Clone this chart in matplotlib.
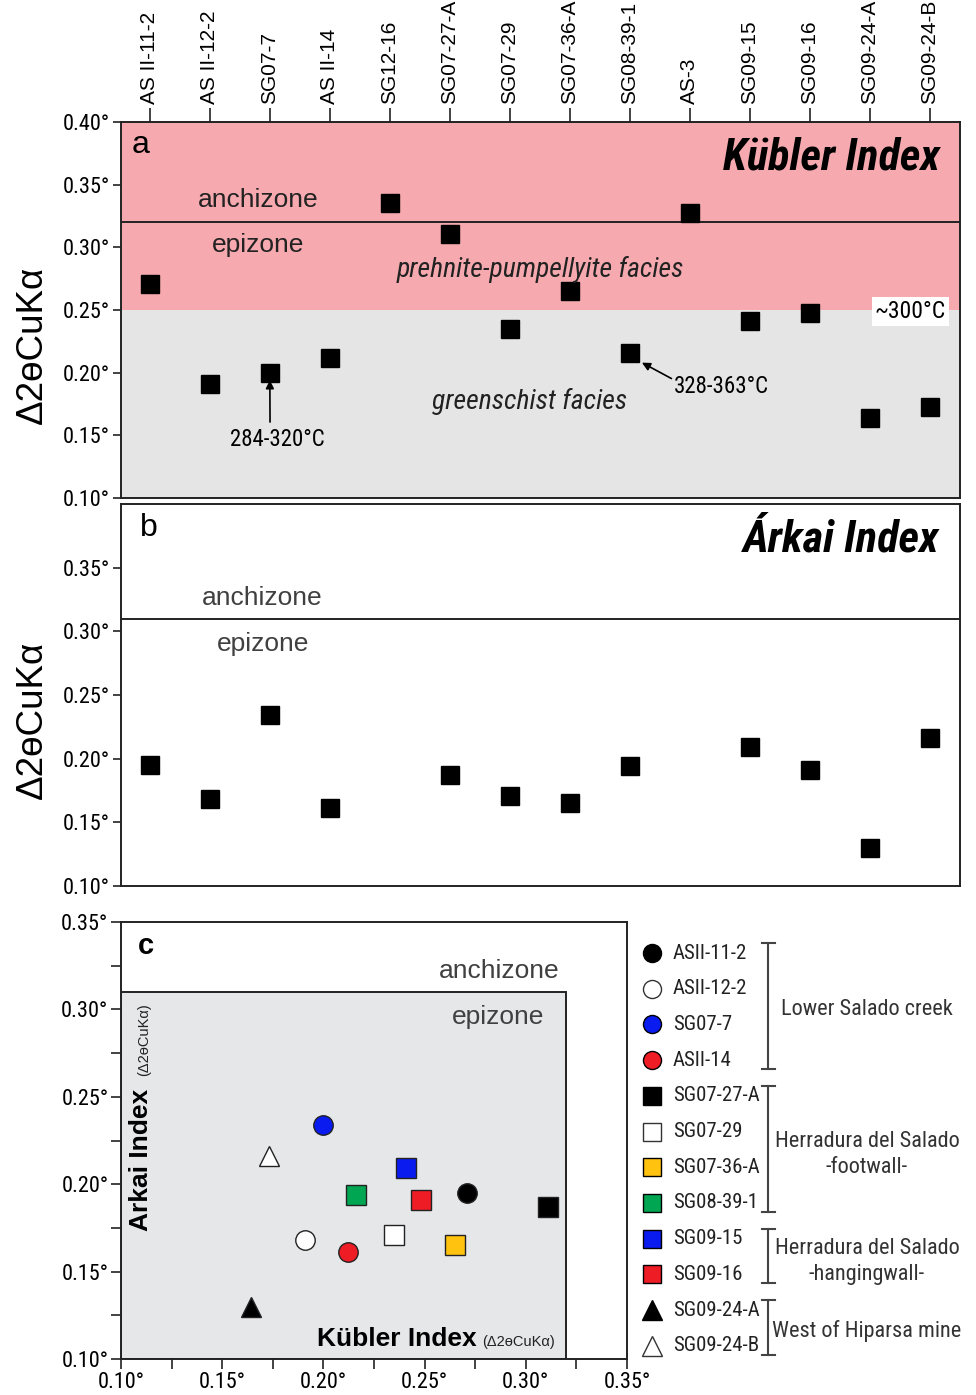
import numpy as np
import matplotlib
matplotlib.use('Agg')
import matplotlib.pyplot as plt
from matplotlib.patches import Rectangle

# === DATA ===
samples = ['AS II-11-2', 'AS II-12-2', 'SG07-7', 'AS II-14', 'SG12-16', 'SG07-27-A',
           'SG07-29', 'SG07-36-A', 'SG08-39-1', 'AS-3', 'SG09-15', 'SG09-16',
           'SG09-24-A', 'SG09-24-B']
kubler = [0.271, 0.191, 0.200, 0.212, 0.335, 0.311, 0.235, 0.265, 0.216, 0.327,
          0.241, 0.248, 0.164, 0.173]
arkai = [0.195, 0.168, 0.234, 0.161, np.nan, 0.187, 0.171, 0.165, 0.194, np.nan,
         0.209, 0.191, 0.130, 0.216]

# panel c symbols (same order as samples; SG12-16 and AS-3 have no Arkai value)
legend_names = ['ASII-11-2', 'ASII-12-2', 'SG07-7', 'ASII-14', None, 'SG07-27-A',
                'SG07-29', 'SG07-36-A', 'SG08-39-1', None, 'SG09-15', 'SG09-16',
                'SG09-24-A', 'SG09-24-B']
markers = ['o', 'o', 'o', 'o', None, 's', 's', 's', 's', None, 's', 's', '^', '^']
colors = ['black', 'white', '#0a1bf0', '#ee1c25', None, 'black', 'white', '#ffc20e',
          '#00a651', None, '#0a1bf0', '#ee1c25', 'black', 'white']
groups = [('Lower Salado creek', 0, 3),
          ('Herradura del Salado\n-footwall-', 4, 7),
          ('Herradura del Salado\n-hangingwall-', 8, 9),
          ('West of Hiparsa mine', 10, 11)]

NARROW = ['Liberation Sans Narrow', 'Arial Narrow', 'Roboto Condensed',
          'Archivo Narrow', 'PT Sans Narrow', 'DejaVu Sans']
SANS = ['Liberation Sans', 'Arimo', 'Arial', 'DejaVu Sans']
YLAB = 'Δ2ɵCuKα'

W, H = 976, 1395
fig = plt.figure(figsize=(W / 100, H / 100), dpi=100)


def px_axes(x0, y0, x1, y1):
    return fig.add_axes([x0 / W, 1 - y1 / H, (x1 - x0) / W, (y1 - y0) / H])


ax_a = px_axes(121, 122, 960, 498)
ax_b = px_axes(121, 504, 960, 886)
ax_c = px_axes(121, 922, 627, 1359)
ax_l = px_axes(630, 925, 976, 1372)

x = np.arange(len(samples))


def style_strip(ax, yticks):
    ax.set_xlim(-0.48, 13.5)
    for s in ax.spines.values():
        s.set_color('#222222')
        s.set_linewidth(1.4)
    ax.set_yticks(yticks)
    ax.set_yticklabels([f'{v:.2f}°' for v in yticks], family=NARROW, fontsize=16)
    ax.tick_params(axis='y', length=6, width=1.2, color='#222222', pad=2)


# --- panel a: Kubler index ---
ax_a.set_ylim(0.10, 0.40)
ax_a.axhspan(0.25, 0.40, color='#f6aaaf', zorder=0, lw=0)
ax_a.axhspan(0.10, 0.25, color='#e5e5e5', zorder=0, lw=0)
ax_a.axhline(0.32, color='#222222', lw=1.4, zorder=1)
ax_a.plot(x, kubler, 's', color='black', ms=13, ls='none', zorder=3)
style_strip(ax_a, np.arange(0.10, 0.401, 0.05))
ax_a.xaxis.tick_top()
ax_a.set_xticks(x)
ax_a.set_xticklabels(samples, rotation=90, family=SANS, fontsize=15)
ax_a.tick_params(axis='x', length=10, width=1.2, color='#222222', pad=3)

ax_a.text(0.013, 0.94, 'a', transform=ax_a.transAxes, fontsize=23, family=SANS,
          va='center', ha='left')
ax_a.text(0.976, 0.905, 'Kübler Index', transform=ax_a.transAxes, fontsize=32,
          family=NARROW, weight='bold', style='italic', ha='right', va='center')
ax_a.text(1.8, 0.338, 'anchizone', fontsize=19, family=SANS, ha='center', va='center', color='#222222')
ax_a.text(1.8, 0.302, 'epizone', fontsize=19, family=SANS, ha='center', va='center', color='#222222')
ax_a.text(6.5, 0.282, 'prehnite-pumpellyite facies', fontsize=20, family=NARROW,
          style='italic', ha='center', va='center', color='#222222')
ax_a.text(6.33, 0.177, 'greenschist facies', fontsize=20, family=NARROW,
          style='italic', ha='center', va='center', color='#222222')
ax_a.text(12.67, 0.249, '~300°C', fontsize=17, family=NARROW, ha='center', va='center',
          bbox=dict(facecolor='white', edgecolor='none', pad=2))
ax_a.annotate('284-320°C', xy=(2.0, 0.194), xytext=(2.13, 0.147), fontsize=16.5,
              family=NARROW, ha='center', va='center',
              arrowprops=dict(arrowstyle='-|>', color='black', lw=1.2,
                              shrinkA=2, shrinkB=0, mutation_scale=12,
                              relpos=(0.42, 1.0)))
ax_a.annotate('328-363°C', xy=(8.2, 0.208), xytext=(9.53, 0.1886), fontsize=16.5,
              family=NARROW, ha='center', va='center',
              arrowprops=dict(arrowstyle='-|>', color='black', lw=1.2,
                              shrinkA=0, shrinkB=0, mutation_scale=12,
                              relpos=(0.0, 0.8)))

# --- panel b: Arkai index ---
ax_b.set_ylim(0.10, 0.40)
ax_b.axhline(0.31, color='#222222', lw=1.4)
ax_b.plot(x, arkai, 's', color='black', ms=13, ls='none', zorder=3)
style_strip(ax_b, np.arange(0.10, 0.351, 0.05))
ax_b.set_xticks([])
ax_b.text(0.023, 0.937, 'b', transform=ax_b.transAxes, fontsize=23, family=SANS,
          va='center', ha='left')
ax_b.text(0.976, 0.906, 'Árkai Index', transform=ax_b.transAxes, fontsize=32,
          family=NARROW, weight='bold', style='italic', ha='right', va='center')
ax_b.text(1.88, 0.326, 'anchizone', fontsize=19, family=SANS, ha='center', va='center', color='#404040')
ax_b.text(1.88, 0.290, 'epizone', fontsize=19, family=SANS, ha='center', va='center', color='#404040')

fig.text(32 / W, 1 - 345 / H, YLAB, rotation=90, fontsize=26.5, family=SANS,
         ha='center', va='center')
fig.text(32 / W, 1 - 720 / H, YLAB, rotation=90, fontsize=26.5, family=SANS,
         ha='center', va='center')

# --- panel c: Kubler vs Arkai ---
ax_c.set_xlim(0.10, 0.35)
ax_c.set_ylim(0.10, 0.35)
ax_c.add_patch(Rectangle((0.10, 0.10), 0.22, 0.21, facecolor='#e6e7e8',
                         edgecolor='#222222', lw=1.4, zorder=0))
for s in ax_c.spines.values():
    s.set_color('#222222')
    s.set_linewidth(1.4)
ct = np.arange(0.10, 0.351, 0.025)
ax_c.set_xticks(ct)
ax_c.set_yticks(ct)
clabs = [f'{v:.2f}°' if i % 2 == 0 else '' for i, v in enumerate(ct)]
ax_c.set_xticklabels(clabs, family=NARROW, fontsize=16)
ax_c.set_yticklabels(clabs, family=NARROW, fontsize=16)
ax_c.tick_params(length=7, width=1.2, color='#222222', pad=2)

for i in range(len(samples)):
    if markers[i] is None:
        continue
    ax_c.plot(kubler[i], arkai[i], markers[i], mfc=colors[i], mec='#222222', mew=1,
              ms=14 if markers[i] != '^' else 15, zorder=3)

ax_c.text(0.034, 0.945, 'c', transform=ax_c.transAxes, fontsize=21, family=SANS,
          weight='bold', ha='left', va='center')
ax_c.text(0.747, 0.888, 'anchizone', transform=ax_c.transAxes, fontsize=19,
          family=SANS, ha='center', va='center', color='#404040')
ax_c.text(0.745, 0.783, 'epizone', transform=ax_c.transAxes, fontsize=19,
          family=SANS, ha='center', va='center', color='#404040')
ax_c.text(0.702, 0.045, 'Kübler Index', transform=ax_c.transAxes, fontsize=19,
          family=SANS, weight='bold', ha='right', va='center')
ax_c.text(0.714, 0.040, '(Δ2ɵCuKα)', transform=ax_c.transAxes, fontsize=10.5,
          family=SANS, ha='left', va='center', color='#222222')
ax_c.text(0.040, 0.455, 'Arkai Index', transform=ax_c.transAxes, fontsize=19,
          family=SANS, weight='bold', rotation=90, ha='center', va='center')
ax_c.text(0.046, 0.73, '(Δ2ɵCuKα)', transform=ax_c.transAxes, fontsize=10.5,
          family=SANS, rotation=90, ha='center', va='center', color='#222222')

# --- legend with group brackets ---
ax_l.set_xlim(630, 976)
ax_l.set_ylim(1372, 925)
ax_l.axis('off')
row = 0
row_y = []
for i in range(len(samples)):
    if markers[i] is None:
        continue
    yy = 953 + row * 35.7
    row_y.append(yy)
    ax_l.plot(652, yy, markers[i], mfc=colors[i],
              mec='black' if colors[i] != 'white' else '#333333',
              mew=1, ms=13 if markers[i] != '^' else 14)
    ax_l.text(673, yy, legend_names[i], fontsize=15, family=NARROW, va='center',
              ha='left', color='#222222')
    row += 1

for label, r0, r1 in groups:
    y0, y1 = row_y[r0] - 10, row_y[r1] + 9
    ax_l.plot([768, 768], [y0, y1], color='#444444', lw=1.5)
    ax_l.plot([762, 775], [y0, y0], color='#444444', lw=1.5)
    ax_l.plot([762, 775], [y1, y1], color='#444444', lw=1.5)
    off = 5 if '\n' in label else 3
    ax_l.text(867, (row_y[r0] + row_y[r1]) / 2 + off, label, fontsize=16, family=NARROW,
              ha='center', va='center', color='#333333', linespacing=1.3)

fig.savefig('out.png', dpi=100)
